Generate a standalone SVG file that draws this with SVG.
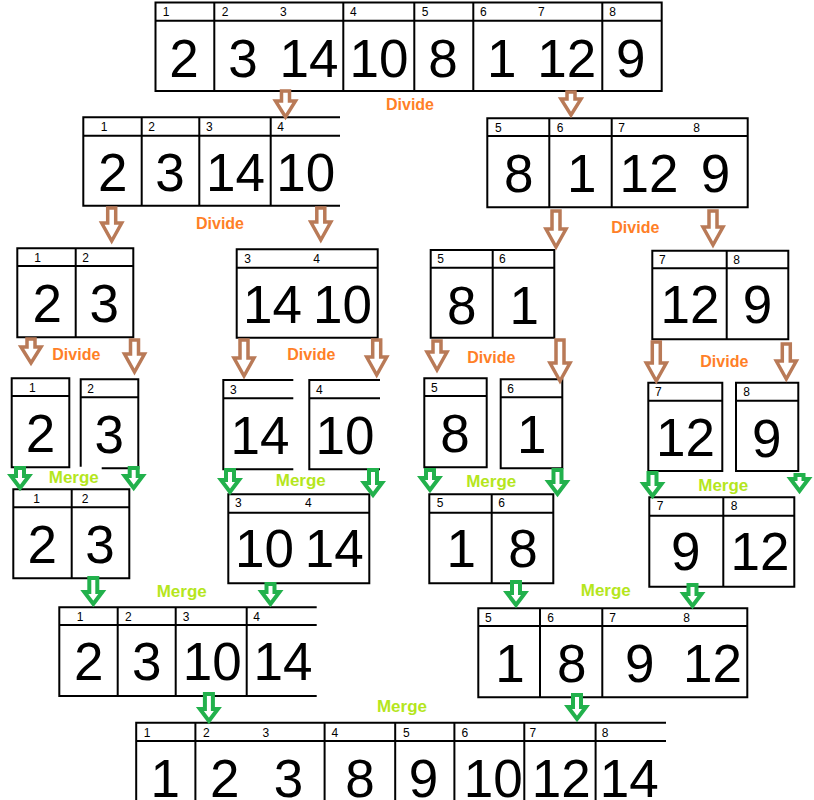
<svg xmlns="http://www.w3.org/2000/svg" width="814" height="800" viewBox="0 0 814 800">
<style>
.ln{fill:none;stroke:#000;stroke-width:2}
.ix{font-family:"Liberation Sans",Arial,sans-serif;font-size:12px;fill:#000}
.num{font-family:"Liberation Sans",Arial,sans-serif;font-size:53px;fill:#000;text-anchor:middle}
.dv{font-family:"Liberation Sans",Arial,sans-serif;font-size:16px;font-weight:bold;fill:#FF7F27;text-anchor:middle}
.mg{font-family:"Liberation Sans",Arial,sans-serif;font-size:17px;font-weight:bold;fill:#B5E61D;text-anchor:middle}
.ad{fill:#fff;stroke:#B97A57;stroke-width:3.5;stroke-linejoin:miter}
.am{fill:#fff;stroke:#22B14C;stroke-width:4;stroke-linejoin:miter}
</style>
<rect width="814" height="800" fill="#fff"/>

<g id="array-top">
<path class="ln" d="M155.5,2.5H661.7V91H155.5Z M155.5,20.7H661.7 M214.3,2.5V91 M343.3,2.5V91 M414.3,2.5V91 M473.3,2.5V91 M602.3,2.5V91"/>
<text class="ix" y="16"><tspan x="162.7">1</tspan><tspan x="221.7">2</tspan><tspan x="280">3</tspan><tspan x="350">4</tspan><tspan x="421.7">5</tspan><tspan x="480">6</tspan><tspan x="538">7</tspan><tspan x="609.3">8</tspan></text>
<text class="num" x="184" y="76.7">2</text><text class="num" x="243" y="76.7">3</text><text class="num" x="309" y="76.7">14</text><text class="num" x="379" y="76.7">10</text><text class="num" x="443" y="76.7">8</text><text class="num" x="501.7" y="76.7">1</text><text class="num" x="566.7" y="76.7">12</text><text class="num" x="630.8" y="76.7">9</text>
</g>

<g id="array-l2-left">
<path class="ln" d="M340,117.3H83.3V205.7H340 M83.3,135.7H340 M141.7,117.3V205.7 M199.3,117.3V205.7 M270.7,117.3V205.7"/>
<text class="ix" y="131"><tspan x="100.7">1</tspan><tspan x="148.3">2</tspan><tspan x="206">3</tspan><tspan x="277.3">4</tspan></text>
<text class="num" x="112.8" y="191">2</text><text class="num" x="170" y="191">3</text><text class="num" x="235.5" y="191">14</text><text class="num" x="305.8" y="191">10</text>
</g>

<g id="array-l2-right">
<path class="ln" d="M487.3,118.3H747.7V207.3H487.3Z M487.3,136H747.7 M549.3,118.3V207.3 M611.7,118.3V207.3"/>
<text class="ix" y="132"><tspan x="495">5</tspan><tspan x="556.7">6</tspan><tspan x="618.3">7</tspan><tspan x="693.3">8</tspan></text>
<text class="num" x="518.8" y="192.3">8</text><text class="num" x="581.7" y="192.3">1</text><text class="num" x="649" y="192.3">12</text><text class="num" x="715.5" y="192.3">9</text>
</g>

<g id="array-l3-a">
<path class="ln" d="M17.3,248.3H133.3V337.3H17.3Z M17.3,266H133.3 M75.7,248.3V337.3"/>
<text class="ix" y="262"><tspan x="34.3">1</tspan><tspan x="82.3">2</tspan></text>
<text class="num" x="47.2" y="321.7">2</text><text class="num" x="104.2" y="321.7">3</text>
</g>

<g id="array-l3-b">
<path class="ln" d="M236.7,249.3H377.7V337.7H236.7Z M236.7,267.7H377.7"/>
<text class="ix" y="263"><tspan x="244.3">3</tspan><tspan x="313.3">4</tspan></text>
<text class="num" x="272.5" y="322.7">14</text><text class="num" x="342.5" y="322.7">10</text>
</g>

<g id="array-l3-c">
<path class="ln" d="M430.7,250H554.3V337.7H430.7Z M430.7,267.7H554.3 M492.7,250V337.7"/>
<text class="ix" y="263"><tspan x="437.3">5</tspan><tspan x="499">6</tspan></text>
<text class="num" x="461.7" y="324">8</text><text class="num" x="524.2" y="324">1</text>
</g>

<g id="array-l3-d">
<path class="ln" d="M652.3,250.7H788.3V339.3H652.3Z M652.3,268.3H788.3 M726.7,250.7V339.3"/>
<text class="ix" y="264"><tspan x="659">7</tspan><tspan x="733.3">8</tspan></text>
<text class="num" x="690" y="323.3">12</text><text class="num" x="757.5" y="323.3">9</text>
</g>

<g id="cell-1">
<path class="ln" d="M11.7,378.3H69.3V467.3H11.7Z M11.7,396H69.3"/>
<text class="ix" x="29" y="391.7">1</text>
<text class="num" x="40.5" y="452.3">2</text>
</g>
<g id="cell-2">
<path class="ln" d="M80.7,466.7V379.3H138.3V468.3H101.7 M80.7,397.3H138.3"/>
<text class="ix" x="87.3" y="392.7">2</text>
<text class="num" x="109.2" y="453.3">3</text>
</g>
<g id="cell-3">
<path class="ln" d="M293.3,380H223.3V469.3H293.3 M223.3,398.3H293.3"/>
<text class="ix" x="230" y="394">3</text>
<text class="num" x="260" y="454">14</text>
</g>
<g id="cell-4">
<path class="ln" d="M380,380H309.3V469.3H380 M309.3,398.3H380"/>
<text class="ix" x="316" y="394">4</text>
<text class="num" x="345" y="454">10</text>
</g>
<g id="cell-5">
<path class="ln" d="M424.3,378.3H486.7V467.3H424.3Z M424.3,396H486.7"/>
<text class="ix" x="431" y="391.7">5</text>
<text class="num" x="455" y="451.7">8</text>
</g>
<g id="cell-6">
<path class="ln" d="M500.7,379.3H562.3V468.3H500.7Z M500.7,397.3H562.3"/>
<text class="ix" x="507.3" y="392.7">6</text>
<text class="num" x="531.7" y="453.3">1</text>
</g>
<g id="cell-7">
<path class="ln" d="M648.3,382.7H722.3V471H648.3Z M648.3,400.7H722.3"/>
<text class="ix" x="655" y="396">7</text>
<text class="num" x="685.5" y="456">12</text>
</g>
<g id="cell-8">
<path class="ln" d="M736,382.7H798.3V471H736Z M736,400.7H798.3"/>
<text class="ix" x="743.3" y="396">8</text>
<text class="num" x="766.7" y="456.7">9</text>
</g>

<g id="merged-a">
<path class="ln" d="M13.3,489.3H129.3V578.3H13.3Z M13.3,507.3H129.3 M71.7,489.3V578.3"/>
<text class="ix" y="502.7"><tspan x="33.3">1</tspan><tspan x="81.7">2</tspan></text>
<text class="num" x="42.3" y="563.3">2</text><text class="num" x="100" y="563.3">3</text>
</g>
<g id="merged-b">
<path class="ln" d="M228.3,494.3H369.3V583.3H228.3Z M228.3,512.7H369.3"/>
<text class="ix" y="507.3"><tspan x="235">3</tspan><tspan x="305">4</tspan></text>
<text class="num" x="264.5" y="566.7">10</text><text class="num" x="334.2" y="566.7">14</text>
</g>
<g id="merged-c">
<path class="ln" d="M429.3,494.3H553.3V583.3H429.3Z M429.3,512.7H553.3 M491.7,494.3V583.3"/>
<text class="ix" y="507.3"><tspan x="436.7">5</tspan><tspan x="498.3">6</tspan></text>
<text class="num" x="461.3" y="566.7">1</text><text class="num" x="523" y="566.7">8</text>
</g>
<g id="merged-d">
<path class="ln" d="M649.3,497.3H794.3V586.7H649.3Z M649.3,515.7H794.3 M723.3,497.3V586.7"/>
<text class="ix" y="510"><tspan x="656.7">7</tspan><tspan x="730.7">8</tspan></text>
<text class="num" x="685.8" y="570">9</text><text class="num" x="760" y="570">12</text>
</g>

<g id="merged-left">
<path class="ln" d="M316.7,607.3H59.3V696H316.7 M59.3,625H316.7 M117.7,607.3V696 M175.7,607.3V696 M246.7,607.3V696"/>
<text class="ix" y="620.7"><tspan x="76.7">1</tspan><tspan x="125">2</tspan><tspan x="182.7">3</tspan><tspan x="253.3">4</tspan></text>
<text class="num" x="88.7" y="680">2</text><text class="num" x="146.7" y="680">3</text><text class="num" x="212.2" y="680">10</text><text class="num" x="283" y="680">14</text>
</g>
<g id="merged-right">
<path class="ln" d="M478.3,608.3H747.3V697.3H478.3Z M478.3,626H747.3 M540,608.3V697.3 M602.3,608.3V697.3"/>
<text class="ix" y="621.7"><tspan x="485">5</tspan><tspan x="547.3">6</tspan><tspan x="609.3">7</tspan><tspan x="683.3">8</tspan></text>
<text class="num" x="510" y="681.7">1</text><text class="num" x="571.7" y="681.7">8</text><text class="num" x="639.7" y="681.7">9</text><text class="num" x="712.5" y="681.7">12</text>
</g>

<g id="array-sorted">
<path class="ln" d="M666,722.7H136.2V801 M136.2,741H666 M195.4,722.7V801 M324.6,722.7V801 M395.2,722.7V801 M454.4,722.7V801 M524.3,722.7V801 M595.6,722.7V801"/>
<text class="ix" y="736.5"><tspan x="143.8">1</tspan><tspan x="203">2</tspan><tspan x="262.6">3</tspan><tspan x="331.4">4</tspan><tspan x="403.1">5</tspan><tspan x="461.6">6</tspan><tspan x="529.4">7</tspan><tspan x="601.7">8</tspan></text>
<text class="num" x="165.3" y="797">1</text><text class="num" x="224.7" y="797">2</text><text class="num" x="288.4" y="797">3</text><text class="num" x="359.9" y="797">8</text><text class="num" x="423.6" y="797">9</text><text class="num" x="493.3" y="797">10</text><text class="num" x="561.3" y="797">12</text><text class="num" x="629.3" y="797">14</text>
</g>

<g id="labels">
<text class="dv" x="410" y="110">Divide</text>
<text class="dv" x="220" y="229">Divide</text>
<text class="dv" x="635.3" y="232.7">Divide</text>
<text class="dv" x="76.3" y="360">Divide</text>
<text class="dv" x="311.3" y="360">Divide</text>
<text class="dv" x="491.3" y="363.3">Divide</text>
<text class="dv" x="724.3" y="366.7">Divide</text>
<text class="mg" x="73.8" y="482.7">Merge</text>
<text class="mg" x="300.8" y="486">Merge</text>
<text class="mg" x="491.2" y="486.7">Merge</text>
<text class="mg" x="723.3" y="491">Merge</text>
<text class="mg" x="181.7" y="596.7">Merge</text>
<text class="mg" x="605.8" y="596">Merge</text>
<text class="mg" x="402" y="712.4">Merge</text>
</g>

<g id="connectors">
<polygon class="ad" points="281.5,91 289.5,91 289.5,101 295.5,101 285.5,117 275.5,101 281.5,101"/>
<polygon class="ad" points="567,92 575,92 575,99 581,99 571,115 561,99 567,99"/>
<polygon class="ad" points="107.7,208 115.7,208 115.7,223 121.7,223 111.7,241 101.7,223 107.7,223"/>
<polygon class="ad" points="316.8,208 324.8,208 324.8,222 330.8,222 320.8,240 310.8,222 316.8,222"/>
<polygon class="ad" points="552,211 560,211 560,229 566,229 556,247 546,229 552,229"/>
<polygon class="ad" points="709,211 717,211 717,227 723,227 713,245 703,227 709,227"/>
<polygon class="ad" points="27,339 35,339 35,347 41,347 31,363 21,347 27,347"/>
<polygon class="ad" points="130.5,340 138.5,340 138.5,354 144.5,354 134.5,372 124.5,354 130.5,354"/>
<polygon class="ad" points="240,340 248,340 248,358 254,358 244,376 234,358 240,358"/>
<polygon class="ad" points="372.7,340 380.7,340 380.7,357 386.7,357 376.7,375 366.7,357 372.7,357"/>
<polygon class="ad" points="433,341 441,341 441,352 447,352 437,370 427,352 433,352"/>
<polygon class="ad" points="556,340 564,340 564,363 570,363 560,381 550,363 556,363"/>
<polygon class="ad" points="652.3,342 660.3,342 660.3,363 666.3,363 656.3,381 646.3,363 652.3,363"/>
<polygon class="ad" points="782.3,344 790.3,344 790.3,361 796.3,361 786.3,379 776.3,361 782.3,361"/>
<polygon class="am" points="16,468 24,468 24,476 29,476 20,488 11,476 16,476"/>
<polygon class="am" points="129.7,468 137.7,468 137.7,476 142.7,476 133.7,488 124.7,476 129.7,476"/>
<polygon class="am" points="226,470 234,470 234,480 239,480 230,492 221,480 226,480"/>
<polygon class="am" points="369,470 377,470 377,483 382,483 373,495 364,483 369,483"/>
<polygon class="am" points="426,470 434,470 434,478 439,478 430,490 421,478 426,478"/>
<polygon class="am" points="553.5,470 561.5,470 561.5,482 566.5,482 557.5,494 548.5,482 553.5,482"/>
<polygon class="am" points="648.5,473 656.5,473 656.5,484 661.5,484 652.5,496 643.5,484 648.5,484"/>
<polygon class="am" points="795.5,475 803.5,475 803.5,479 808.5,479 799.5,491 790.5,479 795.5,479"/>
<polygon class="am" points="89.3,578 97.3,578 97.3,592 102.3,592 93.3,604 84.3,592 89.3,592"/>
<polygon class="am" points="266.5,584 274.5,584 274.5,592 279.5,592 270.5,604 261.5,592 266.5,592"/>
<polygon class="am" points="512,582 520,582 520,593 525,593 516,605 507,593 512,593"/>
<polygon class="am" points="688.5,585 696.5,585 696.5,594 701.5,594 692.5,606 683.5,594 688.5,594"/>
<polygon class="am" points="204.9,694 212.9,694 212.9,709 217.9,709 208.9,721 199.9,709 204.9,709"/>
<polygon class="am" points="573,695 581,695 581,707 586,707 577,719 568,707 573,707"/>
</g>
</svg>
